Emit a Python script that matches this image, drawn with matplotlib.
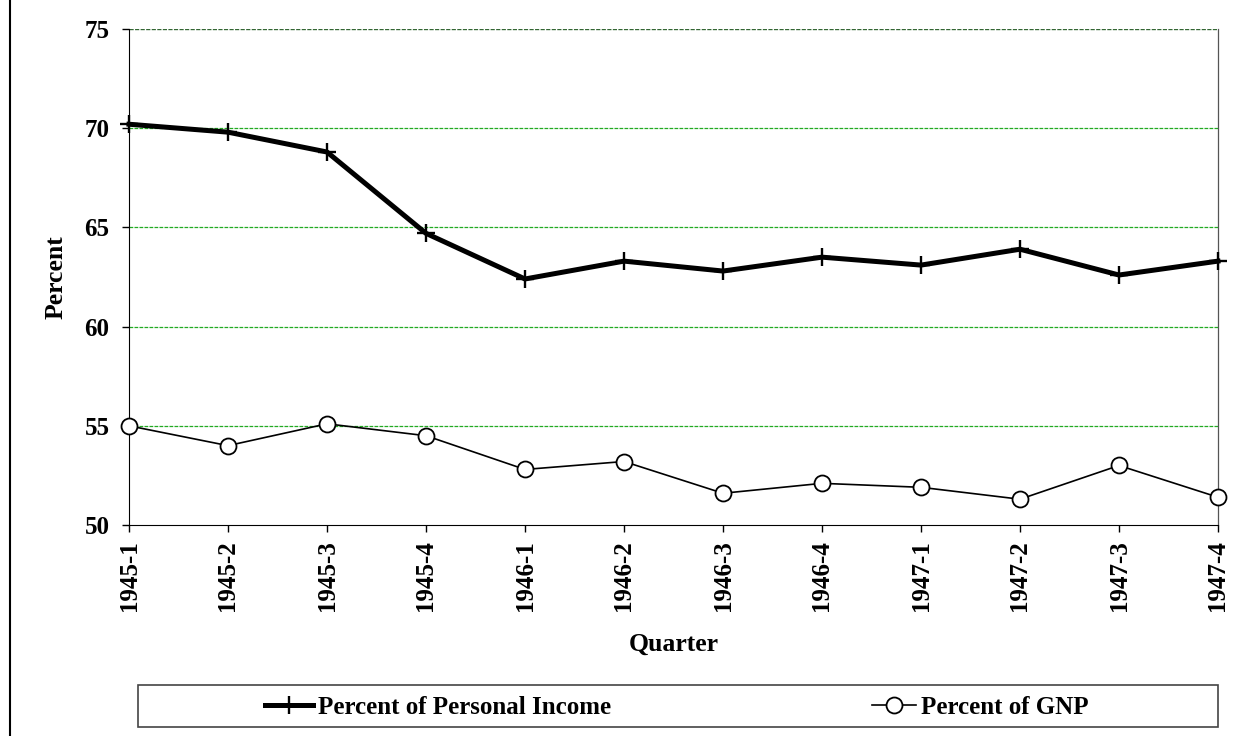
import matplotlib.pyplot as plt
from matplotlib.lines import Line2D
from matplotlib.patches import Rectangle

# data
quarters = ['1945-1', '1945-2', '1945-3', '1945-4', '1946-1', '1946-2',
            '1946-3', '1946-4', '1947-1', '1947-2', '1947-3', '1947-4']
pct_personal_income = [70.2, 69.8, 68.8, 64.7, 62.4, 63.3, 62.8, 63.5, 63.1, 63.9, 62.6, 63.3]
pct_gnp = [55.0, 54.0, 55.1, 54.5, 52.8, 53.2, 51.6, 52.1, 51.9, 51.3, 53.0, 51.4]
y_ticks = [50, 55, 60, 65, 70, 75]

plt.rcParams['font.family'] = ['Liberation Serif', 'DejaVu Serif']
plt.rcParams['font.weight'] = 'bold'

fig = plt.figure(figsize=(12.48, 7.36), dpi=100)
ax = fig.add_axes([129/1248, 1 - 525/736, (1218 - 129)/1248, (525 - 29)/736])

x = list(range(len(quarters)))
ax.plot(x, pct_personal_income, color='black', lw=3.6, marker='+', ms=12.5, mew=1.7,
        label='Percent of Personal Income', clip_on=False, zorder=3)
ax.plot(x, pct_gnp, color='black', lw=1.2, marker='o', ms=11.5, mfc='white', mec='black',
        mew=1.3, label='Percent of GNP', clip_on=False, zorder=3)

ax.set_xlim(0, len(quarters) - 1)
ax.set_ylim(50, 75)
ax.set_yticks(y_ticks)
ax.set_xticks(x)
ax.set_xticklabels(quarters, rotation=90, fontsize=18, fontweight='bold')
ax.set_yticklabels([str(v) for v in y_ticks], fontsize=18, fontweight='bold')
ax.tick_params(axis='y', direction='out', length=5, width=1, pad=9)
ax.tick_params(axis='x', direction='out', length=5, width=1, pad=6)

for v in y_ticks[1:-1]:
    ax.axhline(v, color='#22aa22', lw=0.9, ls=(0, (3, 1)), zorder=1)
ax.axhline(y_ticks[-1], color='#336633', lw=1.0, ls=(0, (3, 1)), zorder=1)

ax.spines['top'].set_visible(False)
ax.spines['right'].set_color('#555555')
ax.spines['right'].set_linewidth(0.9)

ax.set_ylabel('Percent', fontsize=18.5, fontweight='bold')
ax.set_xlabel('Quarter', fontsize=18.5, fontweight='bold')
ax.yaxis.set_label_coords(-0.056, 0.5)
ax.xaxis.set_label_coords(0.5, -0.218)

# left frame line of the chart area
fig.add_artist(Line2D([10/1248, 10/1248], [0, 1], color='black', lw=1.5))

# legend box, Excel style with entries spread out
fig.add_artist(Rectangle((138/1248, 1 - 727/736), (1218 - 138)/1248, 42/736,
                         fill=False, ec='#444444', lw=1.2))
h1, h2 = ax.get_legend_handles_labels()[0]
leg_font = {'size': 18, 'weight': 'bold'}
fig.legend([h1], ['Percent of Personal Income'], loc='center left',
           bbox_to_anchor=(265/1248, 1 - 707/736), frameon=False, borderpad=0,
           borderaxespad=0, handlelength=1.9, handletextpad=0.2, prop=leg_font)
fig.legend([h2], ['Percent of GNP'], loc='center left',
           bbox_to_anchor=(872/1248, 1 - 707/736), frameon=False, borderpad=0,
           borderaxespad=0, handlelength=1.75, handletextpad=0.2, prop=leg_font)

fig.savefig('out.png', dpi=100)
